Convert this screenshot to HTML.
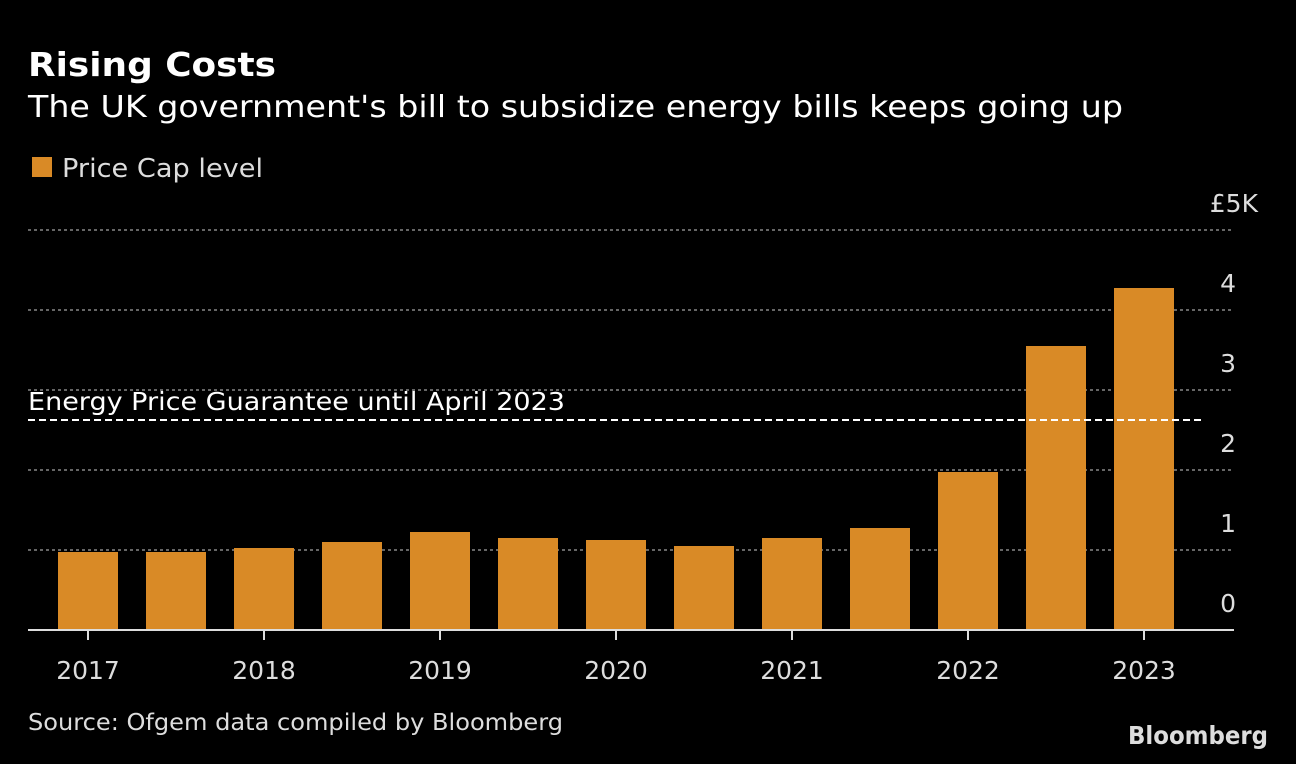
<!DOCTYPE html>
<html><head><meta charset="utf-8"><style>
body{margin:0;background:#000;width:1296px;height:760px;overflow:hidden;font-family:"DejaVu Sans","Liberation Sans",sans-serif;color:#fff}
svg text{font-family:"DejaVu Sans","Liberation Sans",sans-serif}
</style></head><body>
<svg width="1296" height="760" xmlns="http://www.w3.org/2000/svg">
<text x="28" y="76" font-size="33" font-weight="bold" fill="#fff" textLength="248" lengthAdjust="spacingAndGlyphs">Rising Costs</text>
<text x="28" y="117" font-size="30" fill="#fff" textLength="1095" lengthAdjust="spacingAndGlyphs">The UK government's bill to subsidize energy bills keeps going up</text>
<rect x="32" y="157" width="20" height="20" fill="#d98a26"/>
<text x="62" y="177" font-size="26" fill="#ddd" textLength="201" lengthAdjust="spacingAndGlyphs">Price Cap level</text>
<g id="grid"></g><g id="bars"></g><g id="axis"></g>
<text x="28" y="730" font-size="23" fill="#ddd" textLength="535" lengthAdjust="spacingAndGlyphs">Source: Ofgem data compiled by Bloomberg</text>
<text x="1268" y="744" font-size="25" font-weight="bold" fill="#ddd" text-anchor="end" textLength="140" lengthAdjust="spacingAndGlyphs">Bloomberg</text>
</svg>
<script>
const values=[975,975,1025,1100,1225,1150,1125,1050,1150,1275,1975,3550,4275];
const yearLabels=["2017","2018","2019","2020","2021","2022","2023"];
const yTicks=[0,1000,2000,3000,4000,5000];
const yTickLabels=["0","1","2","3","4","£5K"];
const guarantee=2625;
const NS="http://www.w3.org/2000/svg";
const y=v=>630-v*0.08;
const x=i=>88+i*88;
function mk(t,a,p){const e=document.createElementNS(NS,t);for(const k in a)e.setAttribute(k,a[k]);p.appendChild(e);return e;}
const g=document.getElementById('grid'),b=document.getElementById('bars'),ax=document.getElementById('axis');
yTicks.forEach((v,i)=>{
 if(v>0){const l=mk('line',{x1:28,x2:1234,y1:y(v),y2:y(v),stroke:'#888','stroke-width':1.5,'stroke-dasharray':'3,3'},g);
 
 }
 const t=mk('text',{x:v===5000?1258:1236,y:y(v)-18,'font-size':25,fill:'#ddd','text-anchor':'end'},g);t.textContent=yTickLabels[i];
 
 
});
values.forEach((v,i)=>{
 const r=mk('rect',{x:x(i)-30,y:y(v),width:60,height:630-y(v),fill:'#d98a26'},b);
 
 
});
const gl=mk('line',{x1:28,x2:1204,y1:y(guarantee),y2:y(guarantee),stroke:'#fff','stroke-width':2,'stroke-dasharray':'7,4'},ax);


const gt=mk('text',{x:28,y:y(guarantee)-10,'font-size':25,fill:'#fff',textLength:537,lengthAdjust:'spacingAndGlyphs'},ax);gt.textContent='Energy Price Guarantee until April 2023';


const al=mk('line',{x1:28,x2:1234,y1:630,y2:630,stroke:'#ddd','stroke-width':2},ax);


yearLabels.forEach((s,i)=>{
 const tk=mk('line',{x1:x(i*2),x2:x(i*2),y1:630,y2:640,stroke:'#ddd','stroke-width':2},ax);
 
 
 const t=mk('text',{x:x(i*2),y:679,'font-size':25,fill:'#ddd','text-anchor':'middle'},ax);t.textContent=s;
 
 
});
</script>
</body></html>
